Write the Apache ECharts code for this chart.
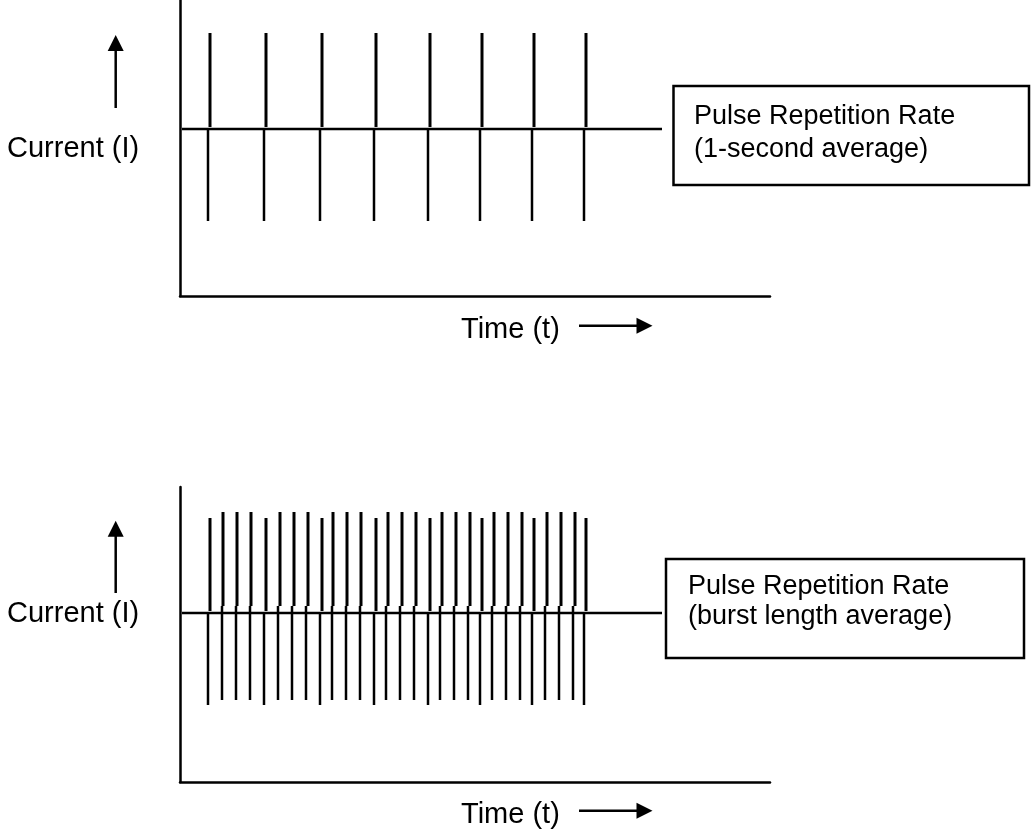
<!DOCTYPE html>
<html>
<head>
<meta charset="utf-8">
<script src="https://cdn.jsdelivr.net/npm/echarts@6/dist/echarts.min.js"></script>
<style>
html,body{margin:0;padding:0;background:#fff;}
#chart{width:1031px;height:835px;}
</style>
</head>
<body>
<div id="chart"></div>
<script>
// ---- Data (time units along axis, current units relative to baseline) ----
// Panel 1: steady pulse train
const trainUpperTimes = [30, 86, 142, 196, 250, 302, 354, 406];
const trainUpperBottom = [2, 2, 2, 2, 2, 2, 2, 2];
const trainUpperTop = [96, 96, 96, 96, 96, 96, 96, 96];
const trainLowerTimes = [28, 84, 140, 194, 248, 300, 352, 404];
const trainLowerTop = [0, 0, 0, 0, 0, 0, 0, 0];
const trainLowerBottom = [-92, -92, -92, -92, -92, -92, -92, -92];

// Panel 2: burst pulse train
const burstUpperTimes = [30, 43, 57, 71, 86, 100, 114, 128, 142, 153, 167, 181, 196, 208, 222, 236, 250, 262, 276, 290, 302, 314, 328, 342, 354, 367, 381, 395, 406];
const burstUpperBottom = [2, 7, 7, 7, 2, 7, 7, 7, 2, 7, 7, 7, 2, 7, 7, 7, 2, 7, 7, 7, 2, 7, 7, 7, 2, 7, 7, 7, 2];
const burstUpperTop = [95, 101, 101, 101, 95, 101, 101, 101, 95, 101, 101, 101, 95, 101, 101, 101, 95, 101, 101, 101, 95, 101, 101, 101, 95, 101, 101, 101, 95];
const burstLowerTimes = [28, 42, 56, 70, 84, 98, 112, 126, 140, 152, 166, 180, 194, 206, 220, 234, 248, 260, 274, 288, 300, 312, 326, 340, 352, 365, 379, 393, 404];
const burstLowerTop = [0, 7, 7, 7, 0, 7, 7, 7, 0, 7, 7, 7, 0, 7, 7, 7, 0, 7, 7, 7, 0, 7, 7, 7, 0, 7, 7, 7, 0];
const burstLowerBottom = [-92, -87, -87, -87, -92, -87, -87, -87, -92, -87, -87, -87, -92, -87, -87, -87, -92, -87, -87, -87, -92, -87, -87, -87, -92, -87, -87, -87, -92];

// Average (baseline) level and its extent
const baselineLevel = [0, 0];
const baselineExtent = [2, 482];

// Axis ranges
const timeRange = [0, 590];
const trainCurrentRange = [-167, 129];
const burstCurrentRange = [-169, 126];

// Texts
const yLabel = 'Current (I)';
const xLabel = 'Time (t)';
const box1Lines = ['Pulse Repetition Rate', '(1-second average)'];
const box2Lines = ['Pulse Repetition Rate', '(burst length average)'];

// ---- Build ----
function segs(times, a, b) {
  return times.map((t, i) => [t, a[i], b[i]]);
}
function segSeries(gi, data, lw) {
  return {
    type: 'custom',
    xAxisIndex: gi, yAxisIndex: gi,
    silent: true,
    clip: false,
    data: data,
    renderItem: function (params, api) {
      const p1 = api.coord([api.value(0), api.value(1)]);
      const p2 = api.coord([api.value(0), api.value(2)]);
      return {
        type: 'line',
        shape: { x1: p1[0], y1: p1[1], x2: p2[0], y2: p2[1] },
        style: { stroke: '#000', lineWidth: lw }
      };
    }
  };
}
function baselineSeries(gi, level) {
  return {
    type: 'line', xAxisIndex: gi, yAxisIndex: gi, silent: true,
    symbol: 'none', animation: false,
    lineStyle: { color: '#000', width: 2.5 },
    data: [[baselineExtent[0], level], [baselineExtent[1], level]]
  };
}
function axisPair(gi, yr) {
  return {
    x: {
      type: 'value', gridIndex: gi, min: timeRange[0], max: timeRange[1],
      axisLine: { show: true, onZero: false, lineStyle: { color: '#000', width: 2.5 } },
      axisTick: { show: false }, axisLabel: { show: false }, splitLine: { show: false }
    },
    y: {
      type: 'value', gridIndex: gi, min: yr[0], max: yr[1],
      axisLine: { show: true, onZero: false, lineStyle: { color: '#000', width: 2.5 } },
      axisTick: { show: false }, axisLabel: { show: false }, splitLine: { show: false }
    }
  };
}
const a0 = axisPair(0, trainCurrentRange);
const a1 = axisPair(1, burstCurrentRange);

const FONT = '"Liberation Sans", Arial, Helvetica, sans-serif';
function txt(x, y, s, size) {
  return { type: 'text', x: x, y: y, silent: true,
    style: { text: s, font: size + 'px ' + FONT, fill: '#000', align: 'left', verticalAlign: 'middle' } };
}
function upArrow(x, tip, bottom) {
  return [
    { type: 'line', silent: true, shape: { x1: x, y1: bottom, x2: x, y2: tip + 14 }, style: { stroke: '#000', lineWidth: 2.5 } },
    { type: 'polygon', silent: true, shape: { points: [[x - 8, tip + 16], [x + 8, tip + 16], [x, tip]] }, style: { fill: '#000' } }
  ];
}
function rightArrow(y, x0, tip) {
  return [
    { type: 'line', silent: true, shape: { x1: x0, y1: y, x2: tip - 14, y2: y }, style: { stroke: '#000', lineWidth: 2.5 } },
    { type: 'polygon', silent: true, shape: { points: [[tip - 16, y - 8], [tip - 16, y + 8], [tip, y]] }, style: { fill: '#000' } }
  ];
}
function box(x, y, w, h) {
  return { type: 'rect', silent: true, shape: { x: x, y: y, width: w, height: h },
    style: { fill: '#fff', stroke: '#000', lineWidth: 2.5 } };
}

const graphics = [].concat(
  [txt(7, 149, yLabel, 29)],
  upArrow(115.7, 35, 108),
  [txt(461, 329.5, xLabel, 29)],
  rightArrow(325.7, 579, 652.5),
  [box(673.5, 86, 355.5, 99), txt(694, 116.5, box1Lines[0], 27), txt(694, 150, box1Lines[1], 27)],
  [txt(7, 614, yLabel, 29)],
  upArrow(115.7, 520.7, 593),
  [txt(461, 814.7, xLabel, 29)],
  rightArrow(810.7, 579, 652.5),
  [box(666, 559, 358, 99), txt(688, 587, box2Lines[0], 27), txt(688, 617, box2Lines[1], 27)]
);

const chart = echarts.init(document.getElementById('chart'), null, { renderer: 'canvas' });
chart.setOption({
  animation: false,
  backgroundColor: '#fff',
  grid: [
    { left: 180, top: 0, width: 590, height: 296 },
    { left: 180, top: 487, width: 590, height: 295 }
  ],
  xAxis: [a0.x, a1.x],
  yAxis: [a0.y, a1.y],
  series: [
    baselineSeries(0, baselineLevel[0]),
    segSeries(0, segs(trainUpperTimes, trainUpperBottom, trainUpperTop), 3),
    segSeries(0, segs(trainLowerTimes, trainLowerTop, trainLowerBottom), 2.5),
    baselineSeries(1, baselineLevel[1]),
    segSeries(1, segs(burstUpperTimes, burstUpperBottom, burstUpperTop), 3),
    segSeries(1, segs(burstLowerTimes, burstLowerTop, burstLowerBottom), 2.5)
  ],
  graphic: graphics
});
</script>
</body>
</html>
